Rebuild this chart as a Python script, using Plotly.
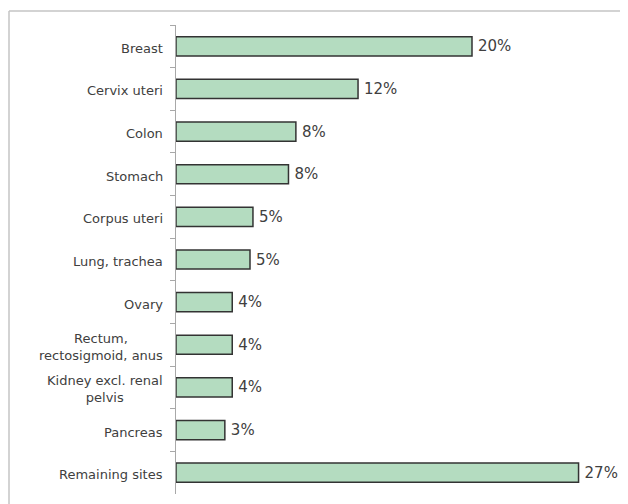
import plotly.graph_objects as go

categories = ["Breast", "Cervix uteri", "Colon", "Stomach", "Corpus uteri",
              "Lung, trachea", "Ovary", "Rectum,<br>rectosigmoid, anus",
              "Kidney excl. renal<br>pelvis", "Pancreas", "Remaining sites"]
shares = [20.0, 12.3, 8.1, 7.6, 5.2, 5.0, 3.8, 3.8, 3.8, 3.3, 27.2]

fig = go.Figure()
fig.add_trace(go.Bar(
    x=shares, y=categories, orientation="h",
    marker=dict(color="#b4dcc0", line=dict(color="#333333", width=1.5)),
    texttemplate="\u2009%{x:.0f}%", textposition="outside",
    textfont=dict(family="DejaVu Sans", size=15, color="#404040"),
    constraintext="none", cliponaxis=False, hoverinfo="skip",
))

for c in categories:
    fig.add_annotation(x=0, xref="paper", y=c, yref="y", xanchor="right",
                       xshift=-11, yshift=-2, text=c, showarrow=False,
                       align="center",
                       font=dict(family="DejaVu Sans", size=13, color="#404040"))

bx = (1 - 168) / 444
by = (486 - 3) / 469
border = dict(color="#c4c4c4", width=1.5)
fig.add_shape(type="line", xref="paper", yref="paper",
              x0=bx, x1=1.05, y0=by, y1=by, line=border, layer="above")
fig.add_shape(type="line", xref="paper", yref="paper",
              x0=bx, x1=bx, y0=-0.05, y1=by, line=border, layer="above")

fig.update_layout(
    width=620, height=496,
    margin=dict(l=168, r=8, t=17, b=10),
    paper_bgcolor="white", plot_bgcolor="white",
    bargap=0.55, showlegend=False,
    xaxis=dict(visible=False, range=[0, 30]),
    yaxis=dict(autorange="reversed", showticklabels=False, tickson="boundaries",
               ticks="outside", ticklen=5, tickcolor="#a8a8a8",
               showline=True, linecolor="#a8a8a8", linewidth=1,
               showgrid=False, zeroline=False),
)
fig.write_html("out.html")
